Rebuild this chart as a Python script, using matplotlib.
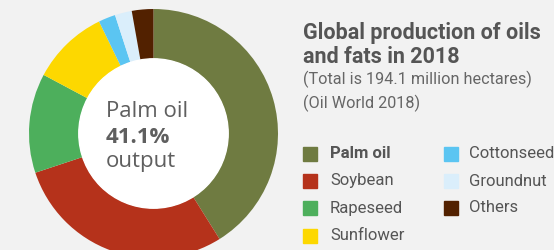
import numpy as np
import matplotlib
matplotlib.use('Agg')
import matplotlib.pyplot as plt
from matplotlib.patches import Circle, Rectangle

# data
labels = ['Palm oil', 'Soybean', 'Rapeseed', 'Sunflower', 'Cottonseed', 'Groundnut', 'Others']
shares = [41.1, 28.8, 12.9, 10.0, 2.2, 2.2, 2.8]
colors = ['#6f7b41', '#b5321b', '#4daf5c', '#fdd800', '#5bc5f2', '#daeefb', '#522100']

W, H = 554, 250
fig = plt.figure(figsize=(W/100, H/100), dpi=100)
fig.patch.set_facecolor('#f2f2f2')

def fx(px):
    return px / W

def fy(py):
    return 1 - py / H

# donut: center (153.5, 133.5) px, radius 124.5 px
cx, cy, r = 153.5, 133.5, 124.5
ax = fig.add_axes([fx(cx - r), fy(cy + r), 2*r/W, 2*r/H])
ax.pie(shares, colors=colors, startangle=90, counterclock=False, radius=1,
       wedgeprops=dict(width=0.4, linewidth=0))
ax.add_patch(Circle((0, 0), 0.6, color='white', zorder=5))
ax.set_xlim(-1, 1)
ax.set_ylim(-1, 1)
ax.set_aspect('equal')
ax.axis('off')

cfont = 'Open Sans'
fig.text(fx(106), fy(117), 'Palm oil', fontsize=16, color='#5f5f5f', family=cfont, va='baseline')
fig.text(fx(106), fy(143), '41.1%', fontsize=16, color='#5f5f5f', family=cfont, weight='bold', va='baseline')
fig.text(fx(106), fy(167), 'output', fontsize=16, color='#5f5f5f', family=cfont, va='baseline')

# title block
tfont = 'Roboto'
fig.text(fx(303), fy(39), 'Global production of oils', fontsize=15.5, weight='bold',
         color='#555555', family=tfont, va='baseline')
fig.text(fx(303), fy(63), 'and fats in 2018', fontsize=15.5, weight='bold',
         color='#555555', family=tfont, va='baseline')
fig.text(fx(303), fy(84), '(Total is 194.1 million hectares)', fontsize=11.7,
         color='#666666', family=tfont, va='baseline')
fig.text(fx(303), fy(108), '(Oil World 2018)', fontsize=11.7,
         color='#666666', family=tfont, va='baseline')

# legend
rows = [154, 181, 208, 236]
for i, (lab, col) in enumerate(zip(labels, colors)):
    if i < 4:
        sx, tx, y = 303, 330, rows[i]
    else:
        sx, tx, y = 444, 469, rows[i - 4]
    fig.patches.append(Rectangle((fx(sx), fy(y + 7)), 14/W, 14/H, color=col,
                                 transform=fig.transFigure, figure=fig))
    fig.text(fx(tx), fy(y), lab, fontsize=12, color='#555555', family=tfont,
             weight='bold' if i == 0 else 'normal', va='center')

fig.savefig('out.png', dpi=100, facecolor=fig.get_facecolor())
